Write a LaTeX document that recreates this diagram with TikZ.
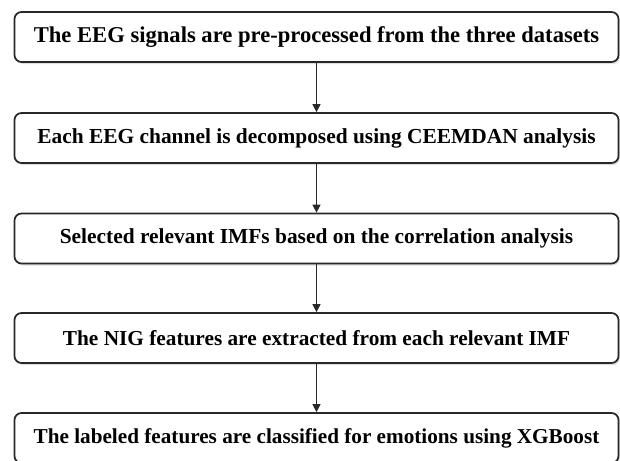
\documentclass[tikz,border=0pt]{standalone}
\usepackage{fontspec}
\setmainfont{Liberation Serif}
\usepackage{tikz}
\usetikzlibrary{arrows.meta, positioning, shadows}
\definecolor{boxline}{RGB}{40,40,40}

\begin{document}
\begin{tikzpicture}[
    x=1pt,y=1pt,
    procbox/.style={draw=boxline,line width=1.7pt,rounded corners=7pt,fill=white,
      minimum width=604pt,minimum height=50pt,inner sep=0pt,
      font=\fontsize{#1}{26}\selectfont\bfseries,
      drop shadow={opacity=0.25,shadow xshift=1.5pt,shadow yshift=-2pt}},
    procbox/.default=21.3,
    arrow/.style={-{Triangle[length=8pt,width=8pt]},line width=1.1pt,boxline},
  ]
  \useasboundingbox (0,0) rectangle (620,-460);

  % processing steps (one column)
  \node[procbox=22.6] (prep) at (316.5,-37) {The EEG signals are pre-processed from the three datasets};
  \node[procbox=21.4] (decomp) at (316.5,-138) {Each EEG channel is decomposed using CEEMDAN analysis};
  \node[procbox=21.4] (select) at (316.5,-238.5) {Selected relevant IMFs based on the correlation analysis};
  \node[procbox] (nig) at (316.5,-338) {The NIG features are extracted from each relevant IMF};
  \node[procbox=21.2] (xgb) at (316.5,-438) {The labeled features are classified for emotions using XGBoost};

  % flow
  \draw[arrow] (prep) -- (decomp);
  \draw[arrow] (decomp) -- (select);
  \draw[arrow] (select) -- (nig);
  \draw[arrow] (nig) -- (xgb);
\end{tikzpicture}
\end{document}
